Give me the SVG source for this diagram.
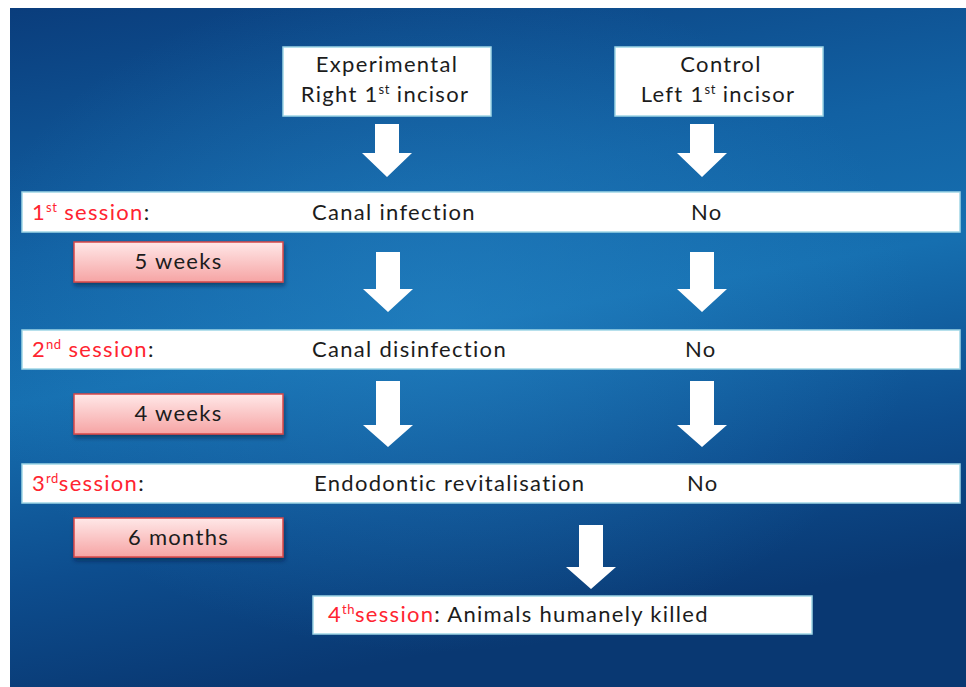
<svg xmlns="http://www.w3.org/2000/svg" width="966" height="687" viewBox="0 0 966 687">
<defs>
<linearGradient id="bg" x1="0" y1="0" x2="0.25" y2="1">
<stop offset="0" stop-color="#0a3d7c"/>
<stop offset="0.35" stop-color="#1261a3"/>
<stop offset="0.55" stop-color="#166fb0"/>
<stop offset="0.8" stop-color="#0d4d8e"/>
<stop offset="1" stop-color="#093872"/>
</linearGradient>
<radialGradient id="glow" cx="0.45" cy="0.45" r="0.5">
<stop offset="0" stop-color="#2a8ccc" stop-opacity="0.45"/>
<stop offset="1" stop-color="#2a8ccc" stop-opacity="0"/>
</radialGradient>
<linearGradient id="pink" x1="0" y1="0" x2="0" y2="1">
<stop offset="0" stop-color="#ffe8e8"/>
<stop offset="1" stop-color="#f6a4a4"/>
</linearGradient>
<filter id="sh" x="-10%" y="-20%" width="120%" height="160%">
<feDropShadow dx="1" dy="3" stdDeviation="2" flood-color="#001530" flood-opacity="0.5"/>
</filter>
</defs>
<style>
.t{font-family:Lato,"Liberation Sans",sans-serif;font-size:22px;letter-spacing:1.3px;fill:#1c1c1c}
.r{fill:#ff2430}
.sup{font-size:13px;letter-spacing:0.5px}
.box{fill:#ffffff;stroke:#9fd6e6;stroke-width:1.5}
.pk{fill:url(#pink);stroke:#d84848;stroke-width:1.5;filter:url(#sh)}
.ar{fill:#ffffff}
</style>
<rect x="0" y="0" width="966" height="687" fill="#ffffff"/>
<rect x="10" y="8" width="956" height="679" fill="url(#bg)"/>
<rect x="10" y="8" width="956" height="679" fill="url(#glow)"/>

<g id="exp">
<rect class="box" x="283" y="47" width="208" height="69"/>
<text class="t" x="387" y="72" text-anchor="middle">Experimental</text>
<text class="t" x="385" y="102" text-anchor="middle">Right 1<tspan class="sup" dy="-8">st</tspan><tspan dy="8"> incisor</tspan></text>
</g>
<g id="ctl">
<rect class="box" x="615" y="47" width="208" height="69"/>
<text class="t" x="721" y="72" text-anchor="middle">Control</text>
<text class="t" x="718" y="102" text-anchor="middle">Left  1<tspan class="sup" dy="-8">st</tspan><tspan dy="8"> incisor</tspan></text>
</g>

<g id="s1">
<rect class="box" x="22" y="192" width="938" height="40"/>
<text class="t" x="32" y="220"><tspan class="r">1</tspan><tspan class="r sup" dy="-8">st</tspan><tspan class="r" dy="8"> session</tspan>:</text>
<text class="t" x="312" y="220">Canal infection</text>
<text class="t" x="691" y="220">No</text>
</g>
<g id="w5">
<rect class="pk" x="74" y="242" width="209" height="40"/>
<text class="t" x="178.5" y="269" text-anchor="middle">5 weeks</text>
</g>
<g id="s2">
<rect class="box" x="22" y="330" width="938" height="39"/>
<text class="t" x="32" y="357"><tspan class="r">2</tspan><tspan class="r sup" dy="-8">nd</tspan><tspan class="r" dy="8">  session</tspan>:</text>
<text class="t" x="312" y="357">Canal disinfection</text>
<text class="t" x="685" y="357">No</text>
</g>
<g id="w4">
<rect class="pk" x="74" y="394" width="209" height="40"/>
<text class="t" x="178.5" y="421" text-anchor="middle">4 weeks</text>
</g>
<g id="s3">
<rect class="box" x="22" y="464" width="938" height="39"/>
<text class="t" x="32" y="491"><tspan class="r">3</tspan><tspan class="r sup" dy="-8">rd</tspan><tspan class="r" dy="8">session</tspan>:</text>
<text class="t" x="314" y="491">Endodontic revitalisation</text>
<text class="t" x="687" y="491">No</text>
</g>
<g id="m6">
<rect class="pk" x="74" y="518" width="209" height="39"/>
<text class="t" x="178.5" y="545" text-anchor="middle">6 months</text>
</g>
<g id="s4">
<rect class="box" x="313" y="596" width="499" height="38"/>
<text class="t" x="328" y="622"><tspan class="r">4</tspan><tspan class="r sup" dy="-8">th</tspan><tspan class="r" dy="8">session</tspan>: Animals humanely killed</text>
</g>

<g id="connectors">
<polygon class="ar" points="375,124 399,124 399,153 412,153 387,177 362,153 375,153"/>
<polygon class="ar" points="690,124 714,124 714,153 727,153 702,177 677,153 690,153"/>
<polygon class="ar" points="376,252 400,252 400,289 413,289 388,312 363,289 376,289"/>
<polygon class="ar" points="690,252 714,252 714,289 727,289 702,312 677,289 690,289"/>
<polygon class="ar" points="376,381 400,381 400,425 413,425 388,447 363,425 376,425"/>
<polygon class="ar" points="690,381 714,381 714,425 727,425 702,447 677,425 690,425"/>
<polygon class="ar" points="579,525 603,525 603,567 616,567 591,589 566,567 579,567"/>
</g>
</svg>
